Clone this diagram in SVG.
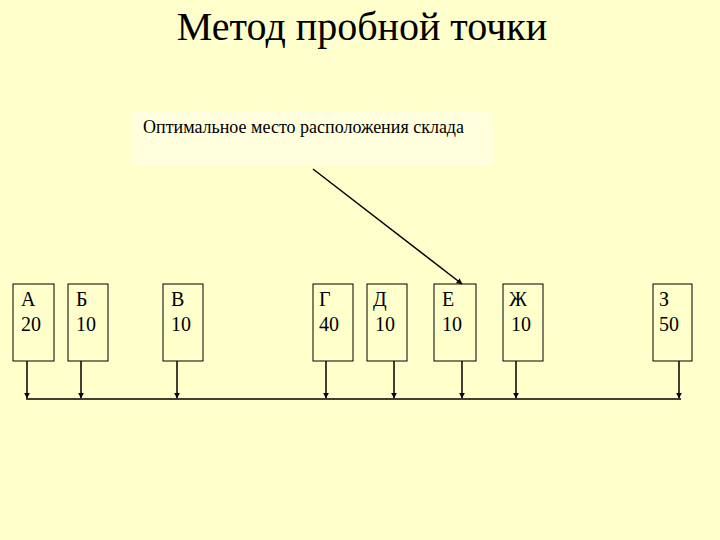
<svg xmlns="http://www.w3.org/2000/svg" width="720" height="540" viewBox="0 0 720 540">
<defs>
<style>
text{font-family:"Liberation Serif","DejaVu Serif",serif;fill:#000}
.box{fill:none;stroke:#000;stroke-width:1}
.ln{stroke:#000;stroke-width:1.5;fill:none}
.v{font-size:20px}
</style>
<marker id="ah" viewBox="0 0 10 10" refX="9" refY="5" markerWidth="6" markerHeight="6" orient="auto" markerUnits="userSpaceOnUse">
<path d="M0,0 L10,5 L0,10 z" fill="#000"/>
</marker>
</defs>
<rect width="720" height="540" fill="#FFFFCC"/>
<text x="362" y="40" font-size="40" text-anchor="middle">Метод пробной точки</text>
<g id="label">
<rect x="133" y="112" width="359" height="53" fill="#FFFFDD" stroke="#FFFFE6"/>
<text x="143" y="133" font-size="18">Оптимальное место расположения склада</text>
</g>
<g id="A"><rect class="box" x="13" y="284" width="41" height="77"/><text class="v" x="21" y="306">А</text><text class="v" x="21" y="331">20</text></g>
<g id="B"><rect class="box" x="68" y="284" width="40" height="77"/><text class="v" x="76" y="306">Б</text><text class="v" x="76" y="331">10</text></g>
<g id="V"><rect class="box" x="163" y="284" width="40" height="77"/><text class="v" x="171" y="306">В</text><text class="v" x="171" y="331">10</text></g>
<g id="G"><rect class="box" x="313" y="284" width="40" height="77"/><text class="v" x="319" y="306">Г</text><text class="v" x="319" y="331">40</text></g>
<g id="D"><rect class="box" x="367" y="284" width="40" height="77"/><text class="v" x="373" y="306">Д</text><text class="v" x="375" y="331">10</text></g>
<g id="E"><rect class="box" x="434" y="284" width="42" height="77"/><text class="v" x="442" y="306">Е</text><text class="v" x="442" y="331">10</text></g>
<g id="Zh"><rect class="box" x="503" y="284" width="40" height="77"/><text class="v" x="509" y="306">Ж</text><text class="v" x="511" y="331">10</text></g>
<g id="Z"><rect class="box" x="653" y="284" width="39" height="77"/><text class="v" x="659" y="306">З</text><text class="v" x="659" y="331">50</text></g>
<g id="connectors">
<line class="ln" x1="26" y1="399" x2="681" y2="399" stroke-width="1.2"/>
<line class="ln" x1="27" y1="361" x2="27" y2="398" marker-end="url(#ah)"/>
<line class="ln" x1="81" y1="361" x2="81" y2="398" marker-end="url(#ah)" stroke-width="1"/>
<line class="ln" x1="177" y1="361" x2="177" y2="398" marker-end="url(#ah)" stroke-width="1"/>
<line class="ln" x1="326" y1="361" x2="326" y2="398" marker-end="url(#ah)"/>
<line class="ln" x1="394" y1="361" x2="394" y2="398" marker-end="url(#ah)"/>
<line class="ln" x1="462" y1="361" x2="462" y2="398" marker-end="url(#ah)"/>
<line class="ln" x1="516" y1="361" x2="516" y2="398" marker-end="url(#ah)"/>
<line class="ln" x1="679" y1="361" x2="679" y2="398" marker-end="url(#ah)"/>
<line class="ln" x1="313" y1="169" x2="462" y2="284" marker-end="url(#ah)"/>
</g>
</svg>
